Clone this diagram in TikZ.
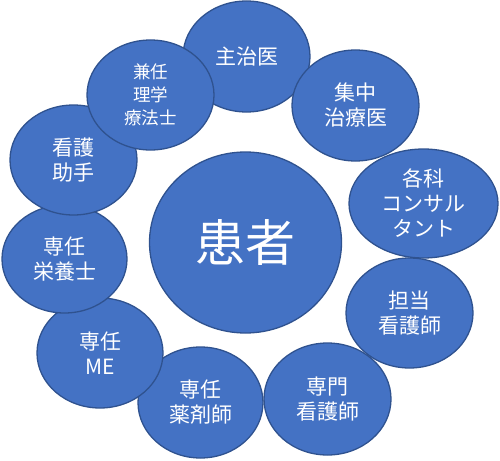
\documentclass[tikz,border=0pt]{standalone}
\usepackage{fontspec}
\newfontfamily\jpw{Noto Sans CJK JP}[Color=FFFFFF]
\usetikzlibrary{shapes.geometric}
\definecolor{fillb}{HTML}{4472C4}
\definecolor{edgeb}{HTML}{2F528F}
\tikzset{
  bubble/.style={ellipse, fill=fillb, draw=edgeb, line width=1.3pt, inner sep=0pt,
    text=white, align=center, font={\jpw\fontsize{21}{25}\selectfont},
    minimum width=127pt, minimum height=111pt},
  bubblesmall/.style={bubble, font={\jpw\fontsize{17.5}{23}\selectfont}},
  bubblebig/.style={bubble, font={\jpw\fontsize{50}{56}\selectfont}}
}
\begin{document}
\begin{tikzpicture}[x=1pt,y=-1pt]
\useasboundingbox (0,0) rectangle (500,460);
\node[bubblebig, minimum width=192pt, minimum height=181pt] (kanja) at (245.5,242.5) {患者};
\node[bubble] (shuji) at (246.5,56.5) {主治医};
\node[bubble] (shuchu) at (355.5,105.5) {集中\\治療医};
\node[bubble, minimum width=149pt, minimum height=109pt] (kakka) at (423.5,203.5) {各科\\コンサル\\タント};
\node[bubble, minimum height=110pt] (tanto) at (409.5,313) {担当\\看護師};
\node[bubble, minimum height=112pt] (senmon) at (327.5,399) {専門\\看護師};
\node[bubble, minimum width=125pt] (yaku) at (200.5,402.5) {専任\\薬剤師};
\node[bubble, minimum width=126pt, minimum height=110pt] (me) at (100,353) {専任\\ME};
\node[bubble, minimum width=125pt, minimum height=108pt] (eiyo) at (64.5,259) {専任\\栄養士};
\node[bubble, minimum height=110pt] (josyu) at (73.5,160) {看護\\助手};
\node[bubblesmall, minimum height=110pt] (rigaku) at (150.5,95) {兼任\\理学\\療法士};
\end{tikzpicture}
\end{document}
